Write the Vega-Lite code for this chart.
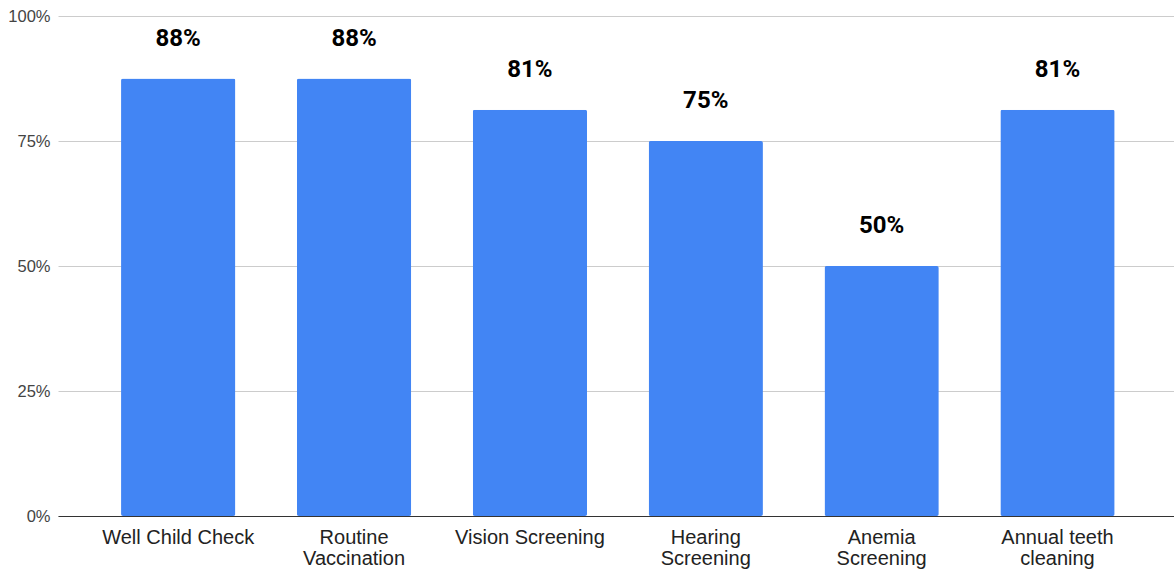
{
  "$schema": "https://vega.github.io/schema/vega-lite/v6.json",
  "width": 1116,
  "height": 500,
  "autosize": "none",
  "padding": {"left": 58, "top": 16, "right": 0, "bottom": 54},
  "background": "white",
  "config": {"view": {"stroke": null}},
  "data": {
    "values": [
      {"category": "Well Child Check", "value": 0.875},
      {"category": "Routine Vaccination", "value": 0.875},
      {"category": "Vision Screening", "value": 0.8125},
      {"category": "Hearing Screening", "value": 0.75},
      {"category": "Anemia Screening", "value": 0.5},
      {"category": "Annual teeth cleaning", "value": 0.8125}
    ]
  },
  "encoding": {
    "x": {
      "field": "category",
      "type": "nominal",
      "sort": null,
      "scale": {"paddingInner": 0.35, "paddingOuter": 0.348, "align": 0.515},
      "axis": {
        "title": null,
        "labelAngle": 0,
        "labelFont": "Liberation Sans",
        "labelFontSize": 20,
        "labelColor": "#222222",
        "labelLineHeight": 21,
        "labelPadding": 11,
        "ticks": false,
        "domainColor": "#333333",
        "domainWidth": 1.2,
        "labelExpr": "datum.value == 'Annual teeth cleaning' ? ['Annual teeth', 'cleaning'] : (indexof(['Routine Vaccination', 'Hearing Screening', 'Anemia Screening'], datum.value) >= 0 ? split(datum.value, ' ') : datum.value)"
      }
    },
    "y": {
      "field": "value",
      "type": "quantitative",
      "scale": {"domain": [0, 1]},
      "axis": {
        "title": null,
        "values": [0, 0.25, 0.5, 0.75, 1],
        "format": ".0%",
        "labelFont": "Liberation Sans",
        "labelFontSize": 16.5,
        "labelColor": "#444444",
        "labelPadding": 8,
        "ticks": false,
        "domain": false,
        "gridColor": "#cccccc",
        "gridWidth": 1
      }
    }
  },
  "layer": [
    {
      "mark": {"type": "bar", "color": "#4285F4", "cornerRadius": 2}
    },
    {
      "mark": {
        "type": "text",
        "baseline": "middle",
        "dy": -40,
        "font": "Roboto",
        "fontWeight": "bold",
        "fontSize": 24,
        "color": "#000000"
      },
      "encoding": {
        "text": {"field": "value", "type": "quantitative", "format": ".0%"}
      }
    }
  ]
}
